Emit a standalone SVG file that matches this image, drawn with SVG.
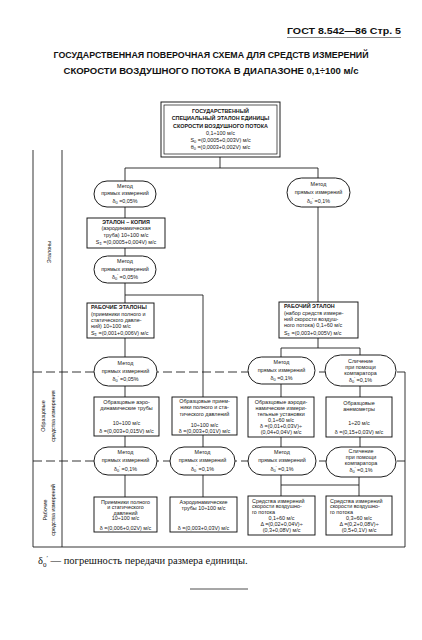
<svg xmlns="http://www.w3.org/2000/svg" width="422" height="640" viewBox="0 0 422 640">
<style>
.t{font-family:"Liberation Sans",Arial,sans-serif;font-size:5.4px;fill:#151515;text-anchor:middle}
.l{text-anchor:start}
.b{font-weight:bold}
.s{font-size:4px}
.n{fill:#fff;stroke:#111;stroke-width:0.95}
.c{fill:none;stroke:#111;stroke-width:0.85}
.d{fill:none;stroke:#111;stroke-width:0.85;stroke-dasharray:9 4}
.h{font-family:"Liberation Sans",Arial,sans-serif;font-weight:bold;fill:#111}
.v{font-family:"Liberation Sans",Arial,sans-serif;font-size:5.4px;fill:#151515;text-anchor:middle}
.f{font-family:"Liberation Serif","Times New Roman",serif;font-size:10.5px;fill:#111}
</style>
<rect width="422" height="640" fill="#fff"/>

<g id="header">
<text class="h" x="287" y="34" font-size="9.5" textLength="114" lengthAdjust="spacingAndGlyphs">ГОСТ 8.542—86 Стр. 5</text>
<line x1="287" y1="37.5" x2="401" y2="37.5" stroke="#333" stroke-width="0.6"/>
<text class="h" x="211" y="58" font-size="8.6" text-anchor="middle" textLength="315" lengthAdjust="spacingAndGlyphs">ГОСУДАРСТВЕННАЯ ПОВЕРОЧНАЯ СХЕМА ДЛЯ СРЕДСТВ ИЗМЕРЕНИЙ</text>
<text class="h" x="211" y="74" font-size="8.6" text-anchor="middle" textLength="295" lengthAdjust="spacingAndGlyphs">СКОРОСТИ ВОЗДУШНОГО ПОТОКА В ДИАПАЗОНЕ 0,1÷100 м/с</text>
</g>

<g id="frame">
<path class="c" d="M33,150V547M62,150V547M33,547H405M405,372V547"/>
<path class="d" d="M33,372H405M33,461H405"/>
<text class="v" transform="translate(51,252) rotate(-90)">Эталоны</text>
<text class="v" transform="translate(45,416) rotate(-90)">Образцовые</text>
<text class="v" transform="translate(55,416) rotate(-90)">средства измерения</text>
<text class="v" transform="translate(47,510) rotate(-90)">Рабочие</text>
<text class="v" transform="translate(55,510) rotate(-90)">средства измерений</text>
</g>

<g id="connectors">
<path class="c" d="M220,157V168M125,168H318M125,168V181M318,168V178M318,207V302M125,207V218M125,248V256M125,283V303M125,295H203V397M125,338V357M125,386V397M125,436V447M125,475V497M203,435V447M203,475V497M318,338V348M281,348H360M281,348V357M360,348V355M281,384V397M360,386V397M281,437V447M360,437V447M281,475V496M281,485H359M359,477V496"/>
</g>

<g id="n-state">
<rect class="n" x="161" y="102" width="119" height="55" stroke-width="1.2"/>
<rect x="164" y="105" width="113" height="49" fill="none" stroke="#111" stroke-width="0.7"/>
<text class="t b" x="220.5" y="113">ГОСУДАРСТВЕННЫЙ</text>
<text class="t b" x="220.5" y="120">СПЕЦИАЛЬНЫЙ ЭТАЛОН ЕДИНИЦЫ</text>
<text class="t b" x="220.5" y="127.5">СКОРОСТИ ВОЗДУШНОГО ПОТОКА</text>
<text class="t" x="220.5" y="135">0,1÷100 м/с</text>
<text class="t" x="220.5" y="142">S<tspan class="s" dy="1.3">0</tspan><tspan dy="-1.3"> =(0,0005+0,003V) м/с</tspan></text>
<text class="t" x="220.5" y="149">θ<tspan class="s" dy="1.3">0</tspan><tspan dy="-1.3"> =(0,0003+0,002V) м/с</tspan></text>
</g>

<g id="n-m1">
<rect class="n" x="94" y="181" width="62" height="26" rx="13"/>
<text class="t" x="125" y="187.5">Метод</text>
<text class="t" x="125" y="195">прямых измерений</text>
<text class="t" x="125" y="203">δ<tspan class="s" dy="1.3">0</tspan><tspan dy="-1.3"> =0,05%</tspan></text>
</g>

<g id="n-copy">
<rect class="n" x="87" y="218" width="78" height="30"/>
<text class="t b" x="126" y="223.5">ЭТАЛОН – КОПИЯ</text>
<text class="t" x="126" y="230">(аэродинамическая</text>
<text class="t" x="126" y="236.5">труба) 10÷100 м/с</text>
<text class="t" x="126" y="244">S<tspan class="s" dy="1.3">Σ</tspan><tspan dy="-1.3"> =(0,0005+0,004V) м/с</tspan></text>
</g>

<g id="n-m2">
<rect class="n" x="94" y="256" width="62" height="27" rx="13.5"/>
<text class="t" x="125" y="263">Метод</text>
<text class="t" x="125" y="271">прямых измерений</text>
<text class="t" x="125" y="279">δ<tspan class="s" dy="1.3">0</tspan><tspan class="s" dy="-3.8">′</tspan><tspan dy="2.5"> =0,05%</tspan></text>
</g>

<g id="n-work-l">
<rect class="n" x="87" y="303" width="67" height="35"/>
<text class="t l b" x="91" y="309">РАБОЧИЕ ЭТАЛОНЫ</text>
<text class="t l" x="91" y="315.5">(приемники полного и</text>
<text class="t l" x="91" y="321.5">статического давле-</text>
<text class="t l" x="91" y="327.5">ний) 10÷100 м/с</text>
<text class="t l" x="91" y="335">S<tspan class="s" dy="1.3">Σ</tspan><tspan dy="-1.3"> =(0,001+0,006V) м/с</tspan></text>
</g>

<g id="n-m3">
<rect class="n" x="94" y="357" width="63" height="29" rx="14.5"/>
<text class="t" x="125.5" y="365">Метод</text>
<text class="t" x="125.5" y="372.5">прямых измерений</text>
<text class="t" x="125.5" y="381">δ<tspan class="s" dy="1.3">0</tspan><tspan class="s" dy="-3.8">′</tspan><tspan dy="2.5"> =0,05%</tspan></text>
</g>

<g id="n-m4">
<rect class="n" x="287" y="178" width="63" height="29" rx="14.5"/>
<text class="t" x="318.5" y="186">Метод</text>
<text class="t" x="318.5" y="194">прямых измерений</text>
<text class="t" x="318.5" y="203">δ<tspan class="s" dy="1.3">0</tspan><tspan class="s" dy="-3.8">′</tspan><tspan dy="2.5"> =0,1%</tspan></text>
</g>

<g id="n-work-r">
<rect class="n" x="279" y="302" width="79" height="36"/>
<text class="t l b" x="284" y="308">РАБОЧИЙ ЭТАЛОН</text>
<text class="t l" x="284" y="314.5">(набор средств измере-</text>
<text class="t l" x="284" y="320.5">ний скорости воздуш-</text>
<text class="t l" x="284" y="326.5">ного потока) 0,1÷60 м/с</text>
<text class="t l" x="284" y="335">S<tspan class="s" dy="1.3">Σ</tspan><tspan dy="-1.3"> =(0,003+0,005V) м/с</tspan></text>
</g>

<g id="n-m5">
<rect class="n" x="248" y="357" width="67" height="27" rx="13.5"/>
<text class="t" x="281.5" y="364">Метод</text>
<text class="t" x="281.5" y="371.5">прямых измерений</text>
<text class="t" x="281.5" y="380">δ<tspan class="s" dy="1.3">0</tspan><tspan dy="-1.3"> =0,1%</tspan></text>
</g>

<g id="n-cmp1">
<rect class="n" x="325" y="355" width="71" height="31" rx="15.5"/>
<text class="t" x="360.5" y="363">Сличение</text>
<text class="t" x="360.5" y="369">при помощи</text>
<text class="t" x="360.5" y="375">компаратора</text>
<text class="t" x="360.5" y="382">δ<tspan class="s" dy="1.3">0</tspan><tspan class="s" dy="-3.8">′</tspan><tspan dy="2.5"> =0,1%</tspan></text>
</g>

<g id="n-obr1">
<rect class="n" x="94" y="397" width="65" height="39"/>
<text class="t" x="126.5" y="403.5">Образцовые аэро-</text>
<text class="t" x="126.5" y="409.5">динамические трубы</text>
<text class="t" x="126.5" y="424.5">10÷100 м/с</text>
<text class="t" x="126.5" y="432.5">δ =(0,003+0,015V) м/с</text>
</g>

<g id="n-obr2">
<rect class="n" x="172" y="397" width="65" height="38"/>
<text class="t" x="204.5" y="403">Образцовые прием-</text>
<text class="t" x="204.5" y="409">ники полного и ста-</text>
<text class="t" x="204.5" y="415.5">тического давлений</text>
<text class="t" x="204.5" y="426.5">10÷100 м/с</text>
<text class="t" x="204.5" y="432.5">δ =(0,003+0,01V) м/с</text>
</g>

<g id="n-obr3">
<rect class="n" x="248" y="397" width="66" height="40"/>
<text class="t" x="281" y="404">Образцовые аэроди-</text>
<text class="t" x="281" y="410">намические измери-</text>
<text class="t" x="281" y="416">тельные установки</text>
<text class="t" x="281" y="421.5">0,1÷60 м/с</text>
<text class="t" x="281" y="427.5">δ =(0,01+0,03V)÷</text>
<text class="t" x="281" y="434">(0,04+0,04V) м/с</text>
</g>

<g id="n-obr4">
<rect class="n" x="326" y="397" width="66" height="40"/>
<text class="t" x="359" y="404.5">Образцовые</text>
<text class="t" x="359" y="410.5">анемометры</text>
<text class="t" x="359" y="425">1÷20 м/с</text>
<text class="t" x="359" y="433.5">δ =(0,15+0,03V) м/с</text>
</g>

<g id="n-m6">
<rect class="n" x="94" y="447" width="63" height="28" rx="14"/>
<text class="t" x="125.5" y="454">Метод</text>
<text class="t" x="125.5" y="462">прямых измерений</text>
<text class="t" x="125.5" y="471">δ<tspan class="s" dy="1.3">0</tspan><tspan class="s" dy="-3.8">′</tspan><tspan dy="2.5"> =0,1%</tspan></text>
</g>

<g id="n-m7">
<rect class="n" x="170" y="447" width="65" height="28" rx="14"/>
<text class="t" x="202.5" y="453.5">Метод</text>
<text class="t" x="202.5" y="461.5">прямых измерений</text>
<text class="t" x="202.5" y="470.5">δ<tspan class="s" dy="1.3">0</tspan><tspan class="s" dy="-3.8">′</tspan><tspan dy="2.5"> =0,1%</tspan></text>
</g>

<g id="n-m8">
<rect class="n" x="248" y="447" width="68" height="28" rx="14"/>
<text class="t" x="282" y="453.5">Метод</text>
<text class="t" x="282" y="461.5">прямых измерений</text>
<text class="t" x="282" y="471">δ<tspan class="s" dy="1.3">0</tspan><tspan class="s" dy="-3.8">′</tspan><tspan dy="2.5"> =0,1%</tspan></text>
</g>

<g id="n-cmp2">
<rect class="n" x="326" y="447" width="70" height="30" rx="15"/>
<text class="t" x="361" y="453">Сличение</text>
<text class="t" x="361" y="459">при помощи</text>
<text class="t" x="361" y="465">компаратора</text>
<text class="t" x="361" y="472">δ<tspan class="s" dy="1.3">0</tspan><tspan class="s" dy="-3.8">′</tspan><tspan dy="2.5"> =0,1%</tspan></text>
</g>

<g id="n-w1">
<rect class="n" x="94" y="497" width="63" height="35"/>
<text class="t" x="125.5" y="503.5">Приемники полного</text>
<text class="t" x="125.5" y="509">и статического</text>
<text class="t" x="125.5" y="514.5">давлений</text>
<text class="t" x="125.5" y="520">10÷100 м/с</text>
<text class="t" x="125.5" y="529.5">δ =(0,006+0,02V) м/с</text>
</g>

<g id="n-w2">
<rect class="n" x="170" y="497" width="67" height="35"/>
<text class="t" x="203.5" y="503.5">Аэродинамические</text>
<text class="t" x="203.5" y="509.5">трубы 10÷100 м/с</text>
<text class="t" x="203.5" y="529.5">δ =(0,003+0,03V) м/с</text>
</g>

<g id="n-w3">
<rect class="n" x="248" y="496" width="67" height="39"/>
<text class="t l" x="252" y="502.5">Средства измерений</text>
<text class="t l" x="252" y="508">скорости воздушно-</text>
<text class="t l" x="252" y="513.5">го потока</text>
<text class="t" x="281.5" y="519.5">0,1÷60 м/с</text>
<text class="t" x="281.5" y="525.5">Δ =(0,02+0,04V)÷</text>
<text class="t" x="281.5" y="532">(0,3+0,08V) м/с</text>
</g>

<g id="n-w4">
<rect class="n" x="326" y="496" width="66" height="39"/>
<text class="t l" x="330" y="502.5">Средства измерений</text>
<text class="t l" x="330" y="508">скорости воздушно-</text>
<text class="t l" x="330" y="513.5">го потока</text>
<text class="t" x="359" y="519.5">0,3÷60 м/с</text>
<text class="t" x="359" y="525.5">Δ =(0,2+0,08V)÷</text>
<text class="t" x="359" y="532">(0,5+0,1V) м/с</text>
</g>

<g id="footnote">
<text class="f" x="38" y="564">δ<tspan font-size="7" dy="2.5">0</tspan><tspan font-size="7" dy="-7">′</tspan><tspan dy="4.5"> — погрешность передачи размера единицы.</tspan></text>
<line x1="190" y1="589" x2="248" y2="589" stroke="#222" stroke-width="0.8"/>
</g>
</svg>
